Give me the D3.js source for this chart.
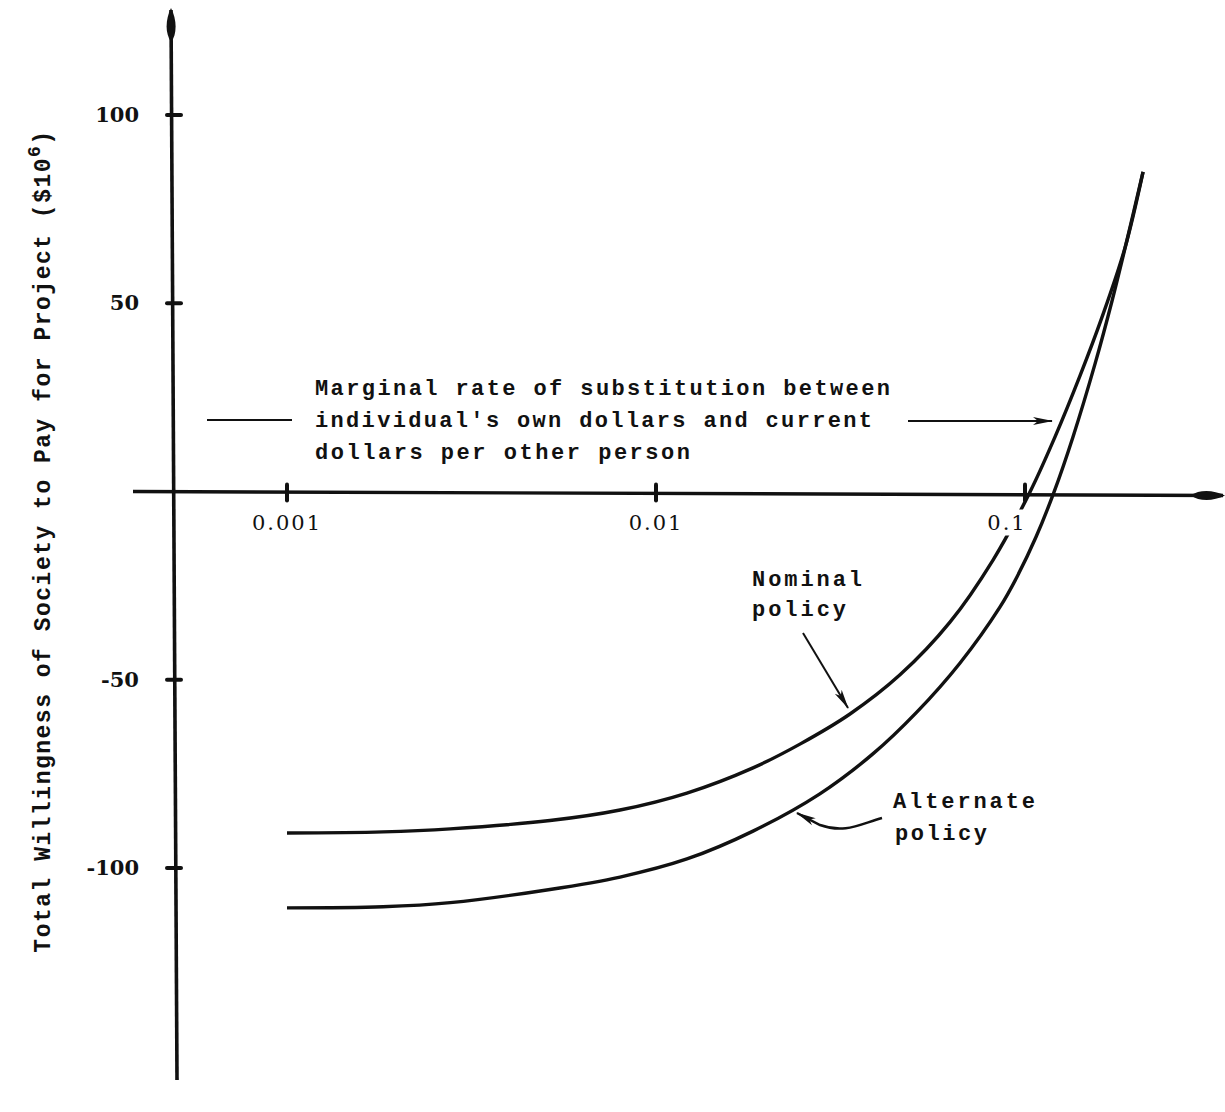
<!DOCTYPE html>
<html>
<head>
<meta charset="utf-8">
<script src="https://cdn.jsdelivr.net/npm/d3@7"></script>
<style>
body { margin: 0; background: #fff; }
svg { display: block; }
.lab { font-family: "Liberation Mono", monospace; font-weight: bold; fill: #111; }
.num { font-family: "DejaVu Serif", serif; fill: #111; }
</style>
</head>
<body>
<div id="chart"></div>
<script>
// values
var xTicks = [0.001, 0.01, 0.1]
var xTickLabels = ["0.001", "0.01", "0.1"]
var yTicks = [100, 50, -50, -100]

var nominalX = [0.001, 0.00182, 0.00277, 0.00516, 0.00799, 0.01213, 0.01832, 0.02455, 0.03355, 0.04584, 0.06261, 0.0819, 0.1032, 0.1206, 0.1409, 0.1617, 0.1866, 0.2089]
var nominalY = [-90.7, -90.4, -89.6, -87.4, -84.6, -80.1, -73.4, -67.1, -59.1, -48.7, -34.7, -18.2, -0.1, 14.5, 30.7, 46.3, 64.7, 84.9]

var alternateX = [0.001, 0.00182, 0.00277, 0.00516, 0.00799, 0.01213, 0.01832, 0.0278, 0.0387, 0.0509, 0.0666, 0.0855, 0.0951, 0.1071, 0.1199, 0.1349, 0.1548, 0.1721, 0.189, 0.2089]
var alternateY = [-110.6, -110.3, -109.2, -105.7, -102.4, -97.6, -90.2, -80.3, -69.7, -58.6, -45.6, -30.7, -22.7, -12.1, -0.1, 14.5, 33.9, 50.6, 66.8, 84.9]

var noteLines = ["Marginal rate of substitution between", "individual's own dollars and current", "dollars per other person"]

var W = 1225, H = 1112
var axisX = 174   // where the vertical axis sits

var svg = d3.select("#chart").append("svg")
  .attr("width", W).attr("height", H)

var defs = svg.append("defs")
defs.append("marker").attr("id", "bigHead")
  .attr("viewBox", "0 -6 34 12").attr("refX", 32).attr("refY", 0)
  .attr("markerWidth", 34).attr("markerHeight", 12)
  .attr("markerUnits", "userSpaceOnUse").attr("orient", "auto")
  .append("path").attr("d", "M0,0 C8,-6 22,-6 34,0 C22,6 8,6 0,0 Z").attr("fill", "#111")
defs.append("marker").attr("id", "smallHead")
  .attr("viewBox", "0 -5 20 10").attr("refX", 19).attr("refY", 0)
  .attr("markerWidth", 20).attr("markerHeight", 10)
  .attr("markerUnits", "userSpaceOnUse").attr("orient", "auto")
  .append("path").attr("d", "M0,-4 L20,0 L0,4 L5,0 Z").attr("fill", "#111")

var x = d3.scaleLog().domain([0.001, 0.1]).range([287, 1025])
var y = d3.scaleLinear().domain([-100, 100]).range([868, 115])

// axes lines with arrow heads
svg.append("line")
  .attr("x1", axisX + 3).attr("y1", 1080).attr("x2", axisX - 3).attr("y2", 10)
  .attr("stroke", "#111").attr("stroke-width", 3.6)
  .attr("marker-end", "url(#bigHead)")
svg.append("line")
  .attr("x1", 133).attr("y1", y(0)).attr("x2", 1223).attr("y2", y(0) + 4)
  .attr("stroke", "#111").attr("stroke-width", 3.4)
  .attr("marker-end", "url(#bigHead)")

// y axis labels via d3 axis
var yAxis = svg.append("g")
  .attr("transform", "translate(" + axisX + ",0)")
  .call(d3.axisLeft(y).tickValues(yTicks).tickSize(0).tickPadding(35)
    .tickFormat(function(d){ return String(d) }))
yAxis.select(".domain").remove()
yAxis.selectAll("text").attr("class", "num").attr("font-size", 21)
  .attr("font-weight", "bold").attr("fill", "#111")
  .style("font-family", "'DejaVu Serif', serif")

// blobby tick marks on the y axis
svg.selectAll(".ytick").data(yTicks).enter().append("line")
  .attr("x1", axisX - 7).attr("x2", axisX + 7)
  .attr("y1", function(d){ return y(d) }).attr("y2", function(d){ return y(d) })
  .attr("stroke", "#111").attr("stroke-width", 4).attr("stroke-linecap", "round")

// x ticks
svg.selectAll(".xtick").data(xTicks).enter().append("line")
  .attr("x1", function(d){ return x(d) }).attr("x2", function(d){ return x(d) })
  .attr("y1", function(d){ return y(0) - 7 }).attr("y2", function(d){ return y(0) + 9 })
  .attr("stroke", "#111").attr("stroke-width", 4).attr("stroke-linecap", "round")

// curves
var line = d3.line()
  .x(function(d){ return x(d[0]) })
  .y(function(d){ return y(d[1]) })
  .curve(d3.curveCatmullRom.alpha(0.5))

svg.append("path")
  .attr("d", line(d3.zip(nominalX, nominalY)))
  .attr("fill", "none").attr("stroke", "#111").attr("stroke-width", 3.4)
svg.append("path")
  .attr("d", line(d3.zip(alternateX, alternateY)))
  .attr("fill", "none").attr("stroke", "#111").attr("stroke-width", 3.4)

// x tick labels (0.1 sits on a white patch that breaks the curve)
var xlab = svg.selectAll(".xlab").data(xTicks).enter().append("g")
  .attr("transform", function(d, i){ return "translate(" + (x(d) + (i == 2 ? -18 : 0)) + "," + (y(0) + 38) + ")" })
xlab.filter(function(d, i){ return i == 2 }).append("rect")
  .attr("x", -22).attr("y", -20).attr("width", 40).attr("height", 26).attr("fill", "#fff")
xlab.append("text").attr("class", "num")
  .attr("text-anchor", "middle").attr("font-size", 21).attr("letter-spacing", 2)
  .text(function(d, i){ return xTickLabels[i] })

// y axis title
var title = svg.append("text").attr("class", "lab")
  .attr("transform", "translate(50,541) rotate(-90)")
  .attr("text-anchor", "middle").attr("font-size", 23).attr("letter-spacing", 1.5)
title.append("tspan").text("Total Willingness of Society to Pay for Project ($10")
title.append("tspan").attr("dy", -10).attr("font-size", 18).text("6")
title.append("tspan").attr("dy", 10).text(")")

// annotation text
var noteLen = [575, 557, 375]
svg.selectAll(".note").data(noteLines).enter().append("text").attr("class", "lab")
  .attr("x", 315).attr("y", function(d, i){ return 395 + i * 32 })
  .attr("font-size", 22)
  .attr("textLength", function(d, i){ return noteLen[i] }).attr("lengthAdjust", "spacing")
  .text(function(d){ return d })

svg.append("line").attr("x1", 207).attr("y1", 420).attr("x2", 292).attr("y2", 420)
  .attr("stroke", "#111").attr("stroke-width", 2)
svg.append("line").attr("x1", 908).attr("y1", 421).attr("x2", 1052).attr("y2", 421)
  .attr("stroke", "#111").attr("stroke-width", 2).attr("marker-end", "url(#smallHead)")

// curve labels
svg.append("text").attr("class", "lab").attr("x", 752).attr("y", 586).attr("font-size", 22)
  .attr("textLength", 110).attr("lengthAdjust", "spacing").text("Nominal")
svg.append("text").attr("class", "lab").attr("x", 752).attr("y", 616).attr("font-size", 22)
  .attr("textLength", 94).attr("lengthAdjust", "spacing").text("policy")
svg.append("path").attr("d", "M803,633 L848,708")
  .attr("fill", "none").attr("stroke", "#111").attr("stroke-width", 2).attr("marker-end", "url(#smallHead)")

svg.append("text").attr("class", "lab").attr("x", 893).attr("y", 808).attr("font-size", 22)
  .attr("textLength", 142).attr("lengthAdjust", "spacing").text("Alternate")
svg.append("text").attr("class", "lab").attr("x", 895).attr("y", 840).attr("font-size", 22)
  .attr("textLength", 92).attr("lengthAdjust", "spacing").text("policy")
svg.append("path").attr("d", "M882,818 C860,824 845,834 820,825 L797,813")
  .attr("fill", "none").attr("stroke", "#111").attr("stroke-width", 2.5).attr("marker-end", "url(#smallHead)")
</script>
</body>
</html>
